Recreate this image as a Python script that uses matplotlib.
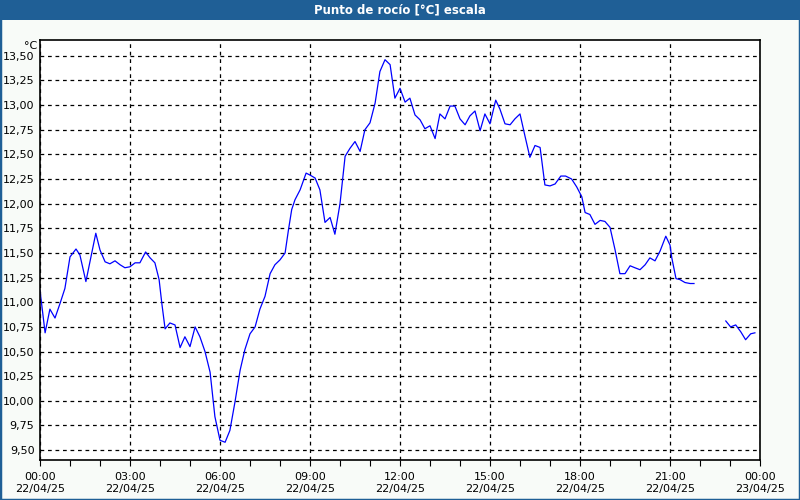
import numpy as np
import matplotlib

matplotlib.use("Agg")
import matplotlib.pyplot as plt
from matplotlib.patches import Rectangle

# time in hours since 22/04/25 00:00, dew point in degC (NaN marks the data gap)
hours = [
    0.0, 0.17, 0.33, 0.5, 0.67, 0.83, 1.0, 1.2, 1.33, 1.53, 1.86, 2.0, 2.17,
    2.33, 2.5, 2.67, 2.83, 3.0, 3.17, 3.33, 3.52, 3.67, 3.83, 3.97, 4.06, 4.17,
    4.33, 4.5, 4.67, 4.83, 5.0, 5.17, 5.33, 5.5, 5.67, 5.83, 6.0, 6.17, 6.33,
    6.5, 6.67, 6.83, 7.0, 7.17, 7.33, 7.5, 7.67, 7.83, 8.0, 8.17, 8.28, 8.39,
    8.5, 8.67, 8.87, 9.0, 9.17, 9.33, 9.5, 9.67, 9.83, 10.0, 10.17, 10.33,
    10.5, 10.67, 10.83, 11.0, 11.17, 11.33, 11.5, 11.67, 11.83, 12.0, 12.17,
    12.33, 12.5, 12.67, 12.83, 13.0, 13.17, 13.33, 13.5, 13.67, 13.83, 14.0,
    14.17, 14.33, 14.5, 14.67, 14.83, 15.0, 15.19, 15.33, 15.5, 15.67, 15.83,
    16.0, 16.17, 16.33, 16.5, 16.67, 16.83, 17.0, 17.17, 17.36, 17.52, 17.72,
    17.89, 18.06, 18.17, 18.33, 18.5, 18.67, 18.83, 19.0, 19.17, 19.33, 19.5,
    19.67, 19.83, 20.0, 20.17, 20.33, 20.5, 20.67, 20.86, 21.0, 21.06, 21.2,
    21.33, 21.5, 21.67, 21.8, 22.3, 22.86, 23.02, 23.19, 23.36, 23.52, 23.69,
    23.83,
]
dew_point = [
    11.12, 10.69, 10.93, 10.84, 10.99, 11.14, 11.46, 11.54, 11.48, 11.21,
    11.70, 11.53, 11.41, 11.39, 11.42, 11.38, 11.35, 11.36, 11.40, 11.40,
    11.51, 11.45, 11.40, 11.23, 10.99, 10.73, 10.79, 10.77, 10.54, 10.65,
    10.55, 10.75, 10.65, 10.50, 10.29, 9.84, 9.60, 9.58, 9.70, 9.99, 10.31,
    10.52, 10.68, 10.75, 10.93, 11.06, 11.29, 11.38, 11.43, 11.50, 11.73,
    11.94, 12.04, 12.14, 12.31, 12.29, 12.26, 12.14, 11.81, 11.86, 11.69,
    12.00, 12.48, 12.56, 12.63, 12.53, 12.75, 12.82, 13.02, 13.34, 13.46,
    13.41, 13.07, 13.17, 13.03, 13.07, 12.90, 12.85, 12.76, 12.79, 12.66,
    12.91, 12.86, 12.99, 12.99, 12.86, 12.80, 12.89, 12.94, 12.74, 12.91,
    12.81, 13.05, 12.96, 12.81, 12.80, 12.86, 12.91, 12.68, 12.47, 12.59,
    12.57, 12.19, 12.18, 12.20, 12.28, 12.28, 12.25, 12.17, 12.07, 11.91,
    11.89, 11.79, 11.83, 11.82, 11.76, 11.53, 11.29, 11.29, 11.37, 11.35,
    11.33, 11.38, 11.45, 11.42, 11.52, 11.67, 11.58, 11.45, 11.24, 11.23,
    11.20, 11.19, 11.19, np.nan, 10.81, 10.75, 10.77, 10.70, 10.62, 10.68,
    10.69,
]

x_ticks = [0, 3, 6, 9, 12, 15, 18, 21, 24]
x_labels = [
    "00:00\n22/04/25", "03:00\n22/04/25", "06:00\n22/04/25", "09:00\n22/04/25",
    "12:00\n22/04/25", "15:00\n22/04/25", "18:00\n22/04/25", "21:00\n22/04/25",
    "00:00\n23/04/25",
]
y_ticks = [9.5 + 0.25 * i for i in range(17)]

title = "Punto de rocío [°C] escala"
unit = "°C"

plt.rcParams["font.family"] = ["DejaVu Sans"]

fig = plt.figure(figsize=(8, 5), dpi=100, facecolor="#f8fbf8")

# blue frame and title bar
fig.patches.append(Rectangle((0, 0), 1, 1, transform=fig.transFigure,
                             fill=False, edgecolor="#1f5f96", linewidth=2.5))
fig.patches.append(Rectangle((0, 0.96), 1, 0.04, transform=fig.transFigure,
                             facecolor="#1f5f96", edgecolor="none"))
fig.text(0.5, 0.98, title, color="white", fontsize=8.5, fontweight="bold",
         ha="center", va="center")

ax = fig.add_axes([0.05, 0.08, 0.9, 0.84])
ax.set_facecolor("white")
ax.plot(hours, dew_point, color="#0000ff", linewidth=0.9)

ax.set_xlim(0, 24)
ax.set_ylim(9.40, 13.66)

ax.set_xticks(x_ticks)
ax.set_xticklabels(x_labels, fontsize=8)
ax.set_xticks(range(25), minor=True)
ax.tick_params(axis="x", which="both", length=4, width=0.8, direction="out",
               pad=5, colors="black")

ax.set_yticks(y_ticks)
ax.set_yticklabels([f"{v:.2f}".replace(".", ",") for v in y_ticks], fontsize=8)
ax.tick_params(axis="y", length=0, pad=4)

ax.grid(True, which="major", color="black", linestyle=(0, (3, 3)), linewidth=0.9)

for s in ax.spines.values():
    s.set_color("black")
    s.set_linewidth(1.2)

fig.text(0.047, 0.908, unit, fontsize=8, ha="right", va="center")

fig.savefig("out.png", dpi=100, facecolor=fig.get_facecolor())
